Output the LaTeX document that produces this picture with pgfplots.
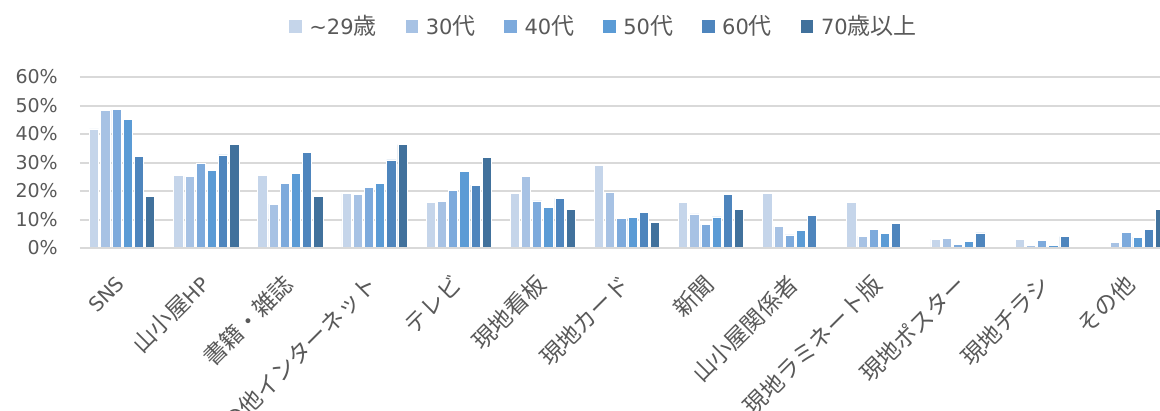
\documentclass[border=0pt]{standalone}
\usepackage{pgfplots}
\pgfplotsset{compat=1.18}
\usepackage{fontspec}
\setmainfont{DejaVu Sans}
\newfontfamily\cjk{Noto Sans CJK JP}
\definecolor{cA}{HTML}{C5D5EA}
\definecolor{cB}{HTML}{A7C2E4}
\definecolor{cC}{HTML}{7DAADC}
\definecolor{cD}{HTML}{5B9BD5}
\definecolor{cE}{HTML}{4E85BD}
\definecolor{cF}{HTML}{41719C}
\definecolor{txt}{HTML}{595959}
\definecolor{grd}{HTML}{D9D9D9}
\newcommand{\lat}[1]{{\fontsize{20}{24}\selectfont #1}}
\newcommand{\jl}[1]{{\fontsize{23}{24}\selectfont\cjk #1}}
\begin{document}
\begin{tikzpicture}[x=1pt,y=1pt]
\begin{axis}[
  name=ax,
  scale only axis, width=1080pt, height=171pt,
  xmin=-0.5, xmax=12.335, ymin=0, ymax=60,
  enlargelimits=false,
  ybar=2pt, bar width=9.2pt,
  axis line style={draw=none},
  major tick length=0pt,
  ymajorgrids, grid style={grd, line width=2pt},
  ytick={0,10,20,30,40,50,60},
  yticklabels={0\%,10\%,20\%,30\%,40\%,50\%,60\%},
  yticklabel style={font=\fontsize{19}{22}\selectfont, text=txt, anchor=east, inner sep=0pt, xshift=-22pt},
  xtick={0,1,2,3,4,5,6,7,8,9,10,11,12},
  xticklabels={\lat{SNS},{\cjk 山小屋}\lat{HP},{\cjk 書籍・雑誌},{\cjk その他インターネット},{\cjk テレビ},{\cjk 現地看板},{\cjk 現地カード},{\cjk 新聞},{\cjk 山小屋関係者},{\cjk 現地ラミネート版},{\cjk 現地ポスター},{\cjk 現地チラシ},{\cjk その他}},
  xticklabel style={font=\fontsize{23}{26}\selectfont, text=txt, xshift=-1.5pt, yshift=-32pt, rotate=45, anchor=east, inner sep=0pt},
  legend columns=6,
  legend style={at={(0.4838,1.298)}, anchor=center, draw=none, fill=none,
    font=\fontsize{21}{24}\selectfont, text=txt,
    nodes={inner sep=0pt},
    /tikz/every even column/.append style={column sep=28pt},
    /tikz/every odd column/.append style={column sep=7pt}},
  legend image code/.code={\fill[#1] (0pt,-6.75pt) rectangle (13.5pt,6.75pt);},
  every axis plot/.append style={draw=white, line width=0.6pt},
]
\addplot[fill=cA] coordinates {(0,41.8) (1,25.6) (2,25.6) (3,19.2) (4,16.0) (5,19.2) (6,28.9) (7,16.0) (8,19.2) (9,16.0) (10,3.1) (11,3.1)};
\addplot[fill=cB] coordinates {(0,48.2) (1,25.1) (2,15.4) (3,18.7) (4,16.3) (5,25.1) (6,19.7) (7,12.0) (8,7.6) (9,4.2) (10,3.3) (11,0.9) (12,2.1)};
\addplot[fill=cC] coordinates {(0,48.5) (1,29.6) (2,22.8) (3,21.4) (4,20.2) (5,16.5) (6,10.3) (7,8.2) (8,4.6) (9,6.6) (10,1.4) (11,2.6) (12,5.6)};
\addplot[fill=cD] coordinates {(0,45.0) (1,27.1) (2,26.2) (3,22.8) (4,27.0) (5,14.2) (6,10.6) (7,10.9) (8,6.1) (9,5.0) (10,2.2) (11,0.9) (12,3.8)};
\addplot[fill=cE] coordinates {(0,32.2) (1,32.7) (2,33.5) (3,30.9) (4,22.1) (5,17.4) (6,12.6) (7,18.7) (8,11.4) (9,8.7) (10,5.3) (11,4.0) (12,6.6)};
\addplot[fill=cF] coordinates {(0,18.2) (1,36.3) (2,18.2) (3,36.3) (4,31.7) (5,13.5) (6,8.9) (7,13.5) (12,13.5)};
\legend{\textasciitilde 29\jl{歳},30\jl{代},40\jl{代},50\jl{代},60\jl{代},70\jl{歳以上}}
\draw[grd, line width=2pt] (axis cs:-0.5,0) -- (axis cs:12.335,0);
\end{axis}
\pgfresetboundingbox
\path[use as bounding box] ([shift={(-80pt,-162pt)}]ax.south west) rectangle ([shift={(1080pt,248pt)}]ax.south west);
\end{tikzpicture}
\end{document}
